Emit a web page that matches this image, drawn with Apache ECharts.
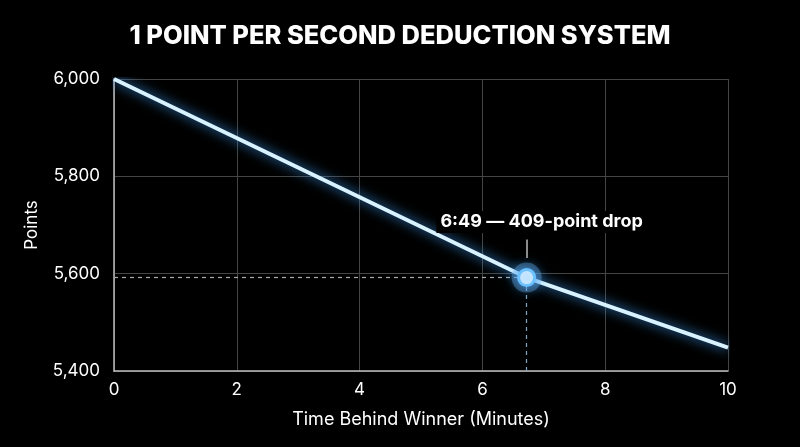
<!DOCTYPE html>
<html><head><meta charset="utf-8">
<script src="https://cdn.jsdelivr.net/npm/echarts@6/dist/echarts.min.js"></script>
<style>html,body{margin:0;padding:0;background:#000;}#c{width:800px;height:447px;}</style>
</head><body><div id="c"></div>
<script>
const times = [0, 6.72, 10];
const points = [6000, 5592, 5448];
const markTime = 6.72;
const markPoints = 5592;
const markLabel = '6:49 \u2014 409-point drop';
const yTicks = [5400, 5600, 5800, 6000];
const xTicks = [0, 2, 4, 6, 8, 10];
const leaderTop = 5670, leaderBottom = 5632;

const font = 'Inter';
const chart = echarts.init(document.getElementById('c'));
chart.setOption({
  backgroundColor: '#000',
  animation: false,
  title: {
    text: '1 POINT PER SECOND DEDUCTION SYSTEM',
    left: 'center', top: 18,
    textStyle: {color: '#fff', fontFamily: font, fontWeight: 800, fontSize: 25.5}
  },
  grid: {left: 114, right: 72, top: 79, bottom: 76},
  xAxis: {
    type: 'value', min: xTicks[0], max: xTicks[xTicks.length-1], interval: 2,
    name: 'Time Behind Winner (Minutes)', nameLocation: 'middle', nameGap: 40,
    nameTextStyle: {color: '#fff', fontFamily: font, fontSize: 18},
    axisLine: {lineStyle: {color: '#bdbdbd', width: 1.5}},
    axisTick: {show: false},
    axisLabel: {color: '#fff', fontFamily: font, fontSize: 17, margin: 10},
    splitLine: {show: true, lineStyle: {color: '#444', width: 1}}
  },
  yAxis: {
    type: 'value', min: yTicks[0], max: yTicks[yTicks.length-1], interval: 200,
    name: 'Points', nameLocation: 'middle', nameGap: 74,
    nameTextStyle: {color: '#fff', fontFamily: font, fontSize: 17},
    axisLine: {show: true, lineStyle: {color: '#bdbdbd', width: 1.5}},
    axisTick: {show: false},
    axisLabel: {color: '#fff', fontFamily: font, fontSize: 17, margin: 14,
      formatter: v => v.toLocaleString('en-US')},
    splitLine: {show: true, lineStyle: {color: '#444', width: 1}}
  },
  series: [
    {
      type: 'line',
      data: times.map((t, i) => [t, points[i]]),
      symbol: 'none',
      lineStyle: {color: '#d8f3ff', width: 4, shadowBlur: 12, shadowColor: '#3fa2ff'},
      z: 5,
      markLine: {
        symbol: 'none', silent: true, label: {show: false},
        data: [
          [{coord: [xTicks[0], markPoints], lineStyle: {color: '#aaa', type: [4, 4], width: 1.2}},
           {coord: [markTime, markPoints]}],
          [{coord: [markTime, yTicks[0]], lineStyle: {color: '#7fa6c6', type: [4, 4], width: 1.2}},
           {coord: [markTime, markPoints]}],
          [{coord: [markTime, leaderTop], lineStyle: {color: '#bbb', type: 'solid', width: 1.5}},
           {coord: [markTime, leaderBottom]}]
        ]
      }
    },
    {
      type: 'scatter',
      data: [[markTime, markPoints]],
      symbolSize: 30,
      itemStyle: {color: 'rgba(120,180,230,0.35)', opacity: 1},
      silent: true, z: 6
    },
    {
      type: 'scatter',
      data: [[markTime, markPoints]],
      symbolSize: 16,
      itemStyle: {color: '#effaff', borderColor: '#6cc2ff', borderWidth: 3, opacity: 1,
        shadowBlur: 14, shadowColor: '#3fa2ff'},
      label: {
        show: true, formatter: markLabel, position: 'top', distance: 35, offset: [15, 0],
        color: '#ffffff', fontFamily: font, fontWeight: 700, fontSize: 18,
        textBorderWidth: 0, backgroundColor: '#000', padding: [2, 4]
      },
      silent: true, z: 7
    }
  ]
});
</script></body></html>
